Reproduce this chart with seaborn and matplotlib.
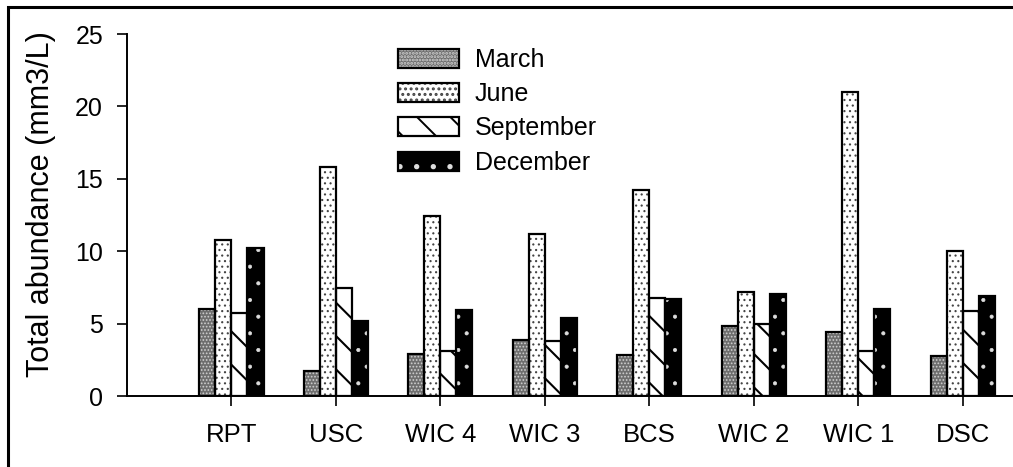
import numpy as np
import pandas as pd
import matplotlib
matplotlib.use("Agg")
import matplotlib.pyplot as plt
from matplotlib.patches import Patch, Rectangle
from matplotlib.legend_handler import HandlerTuple
import seaborn as sns

# Sampling sites along the stream and the seasonal samples
sites = ["RPT", "USC", "WIC 4", "WIC 3", "BCS", "WIC 2", "WIC 1", "DSC"]
months = ["March", "June", "September", "December"]

march = [6.0, 1.7, 2.9, 3.9, 2.8, 4.85, 4.4, 2.75]
june = [10.75, 15.8, 12.4, 11.2, 14.2, 7.2, 21.0, 10.0]
september = [5.7, 7.45, 3.1, 3.8, 6.8, 4.95, 3.1, 5.85]
december = [10.25, 5.2, 5.95, 5.4, 6.7, 7.05, 6.0, 6.9]

y_ticks = [0, 5, 10, 15, 20, 25]
y_label = "Total abundance (mm3/L)"

df = pd.DataFrame({
    "site": np.tile(sites, len(months)),
    "month": np.repeat(months, len(sites)),
    "value": march + june + september + december,
})

sns.set_style("white")
plt.rcParams["font.family"] = ["Liberation Sans", "DejaVu Sans"]
plt.rcParams["hatch.linewidth"] = 1.4
for key in ("text.color", "axes.labelcolor", "xtick.color", "ytick.color",
            "axes.edgecolor"):
    plt.rcParams[key] = "black"

# face colour, hatch colour, hatch pattern, hatch line width for each month
styles = {
    "March": ("#6e6e6e", "#d0d0d0", ".....", 0.8),
    "June": ("white", "#444444", "...", 0.8),
    "September": ("white", "black", "\\", 1.5),
    "December": ("black", "#dddddd", ".", 0.5),
}


def style_patch(patch, month):
    fc, hc, hatch, hlw = styles[month]
    patch.set_facecolor(fc)
    patch.set_edgecolor(hc)
    patch.set_linewidth(0)
    patch.set_hatch(hatch)
    if hasattr(patch, "set_hatch_linewidth"):
        patch.set_hatch_linewidth(hlw)


fig = plt.figure(figsize=(10.13, 4.67), dpi=100)
ax = fig.add_axes([127 / 1013, 71 / 467, 886 / 1013, 362 / 467])

sns.barplot(data=df, x="site", y="value", hue="month", order=sites,
            hue_order=months, palette=["white"] * 4, width=0.613,
            edgecolor="black", linewidth=1.5, legend=False, ax=ax)

for month, container in zip(months, ax.containers):
    for bar in container:
        style_patch(bar, month)
        ax.add_patch(Rectangle(bar.get_xy(), bar.get_width(), bar.get_height(),
                               fill=False, edgecolor="black", linewidth=1.6,
                               zorder=bar.get_zorder() + 0.1))

ax.set_xlim(-1, 7.48)
ax.set_ylim(0, 25)
ax.set_yticks(y_ticks)
ax.set_xlabel("")
ax.set_ylabel(y_label, fontsize=22)
ax.yaxis.set_label_coords(-0.08, 0.53)

for side in ("top", "right"):
    ax.spines[side].set_visible(False)
for side in ("left", "bottom"):
    ax.spines[side].set_linewidth(1.4)
    ax.spines[side].set_color("black")

ax.tick_params(axis="y", direction="out", length=7.2, width=1.2, pad=10,
               labelsize=18, left=True, colors="black")
ax.tick_params(axis="x", direction="out", length=7.2, width=1.2, pad=12,
               labelsize=18.5, bottom=True, colors="black")

handles = []
for month in months:
    fill = Patch()
    style_patch(fill, month)
    outline = Patch(fill=False, edgecolor="black", linewidth=1.6)
    handles.append((fill, outline))

fig.legend(handles, months, loc="upper left",
           bbox_to_anchor=(398 / 1013, 1 - 48 / 467),
           bbox_transform=fig.transFigure, frameon=False, fontsize=18,
           handlelength=2.45, handleheight=0.8, handletextpad=0.62,
           labelspacing=0.41, borderpad=0, borderaxespad=0,
           handler_map={tuple: HandlerTuple(ndivide=1)})

# outer frame around the figure
fig.add_artist(Rectangle((7.5 / 1013, -0.5), 2.0, 1.5 - 6.5 / 467,
                         transform=fig.transFigure, fill=False,
                         edgecolor="black", linewidth=2.2))

fig.savefig("out.png", dpi=100)
